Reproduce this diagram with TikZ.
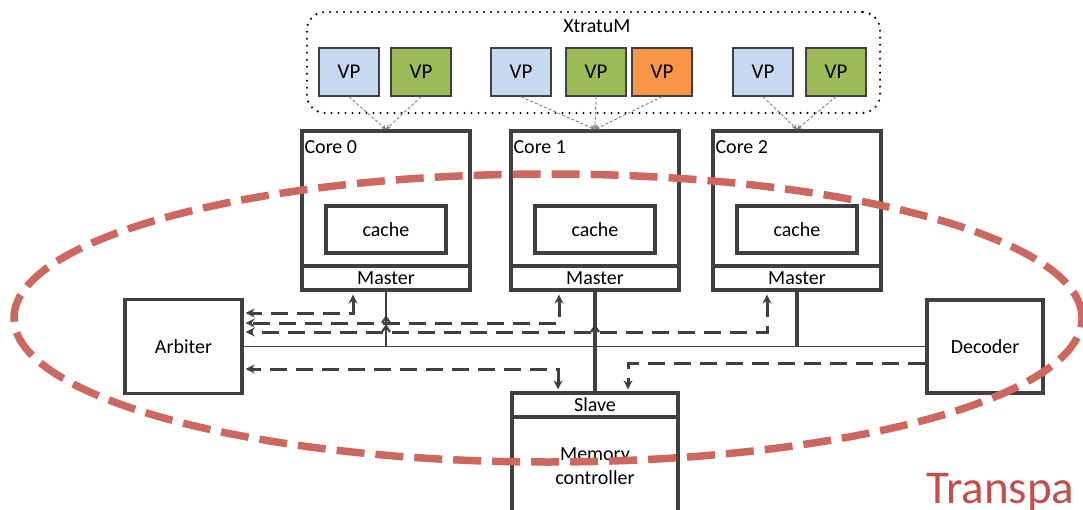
\documentclass[tikz,border=0pt]{standalone}
\usepackage{fontspec}
\setmainfont{Carlito}
\usetikzlibrary{arrows.meta}

\definecolor{linegray}{RGB}{64,64,64}
\definecolor{vpblue}{RGB}{198,217,241}
\definecolor{vpgreen}{RGB}{155,187,89}
\definecolor{vporange}{RGB}{247,150,70}
\definecolor{halored}{RGB}{205,104,96}
\definecolor{textred}{RGB}{192,80,77}

\begin{document}
\begin{tikzpicture}[x=1pt, y=-1pt,
    font=\fontsize{20}{24}\selectfont,
    >={Stealth[length=9pt,width=9pt]},
    box/.style={draw=linegray, line width=3.3pt, inner sep=0pt},
    vp/.style={draw=linegray, line width=1.4pt, minimum width=60pt, minimum height=48pt, inner sep=0pt, font=\fontsize{21}{24}\selectfont},
    vplink/.style={draw=gray, line width=0.9pt, dash pattern=on 3pt off 2pt, -{Stealth[length=5pt,width=5pt]}},
    req/.style={draw=linegray, line width=3pt, dash pattern=on 17pt off 9pt},
    tap/.style={draw=linegray, line width=3.3pt},
    halo/.style={draw=halored, line width=7.5pt, dash pattern=on 28pt off 11pt}]

    \useasboundingbox (0,0) rectangle (1083,510);
    \clip (0,0) rectangle (1083,510);

    % hypervisor with its virtual processors
    \node[draw=black, line width=2.4pt, line cap=round, dash pattern=on 0pt off 7pt, rounded corners=18pt, minimum width=573pt, minimum height=101pt] (xtm) at (593.5,62.5) {};
    \node (xlbl) at (597,26) {XtratuM};
    \foreach \n/\x/\c in {v0/349/vpblue, v1/421/vpgreen, v2/521/vpblue, v3/596/vpgreen, v4/662/vporange, v5/763/vpblue, v6/836/vpgreen} {
        \node[vp, fill=\c] (\n) at (\x,72) {VP};
    }

    % cores
    \foreach \i/\x in {0/386, 1/595, 2/797} {
        \node[box, minimum width=168pt, minimum height=135pt] (c\i) at (\x,198.5) {};
        \node[box, minimum width=168pt, minimum height=24pt] (m\i) at (\x,278) {Master};
        \node[box, minimum width=120pt, minimum height=47pt] (ca\i) at (\x,229.5) {cache};
        \node[anchor=north west, inner sep=0pt] (l\i) at ([shift={(4,11)}]c\i.north west) {Core \i};
    }
    \foreach \n/\c in {v0/c0, v1/c0, v2/c1, v3/c1, v4/c1, v5/c2, v6/c2} {
        \draw[vplink] (\n.south) -- (\c.north);
    }

    % arbiter, decoder, memory
    \node[box, minimum width=117pt, minimum height=94pt] (arb) at (183.5,346.5) {Arbiter};
    \node[box, minimum width=116pt, minimum height=93pt] (dec) at (985,346.5) {Decoder};
    \node[box, minimum width=166pt, minimum height=24pt] (slave) at (595,405) {Slave};
    \node[box, minimum width=166pt, minimum height=110pt] (mc) at (595,472) {};
    \node[align=center] (mctext) at (595,466) {Memory\\controller};

    % bus
    \draw[linegray, line width=1.8pt] (arb.east) -- (dec.west);
    \draw[tap, line width=2.4pt] (m0.south) -- (m0.south |- arb.east);
    \draw[tap] (m1.south) -- (slave.north);
    \draw[tap] (m2.south) -- (m2.south |- arb.east);

    % requests and grants
    \coordinate (k0) at (353,313);
    \coordinate (k1) at (559,323);
    \coordinate (k2) at (767,332);
    \coordinate (k3) at (558,369);
    \coordinate (k4) at (628,363);
    \draw[req, <->, shorten <=3pt, shorten >=2pt] (k0 |- m0.south) -- (k0) -- (arb.east |- k0);
    \draw[req, <->, shorten <=3pt, shorten >=2pt] (k1 |- m1.south) -- (k1) -- (arb.east |- k1);
    \draw[req, <->, shorten <=3pt, shorten >=2pt] (k2 |- m2.south) -- (k2) -- (arb.east |- k2);
    \draw[req, <->, shorten <=2pt, shorten >=2pt] (k3 |- slave.north) -- (k3) -- (arb.east |- k3);
    \draw[req, ->, shorten >=2pt] (dec.west |- k4) -- (k4) -- (k4 |- slave.north);
    \foreach \a/\b in {m0/k1, m0/k2, m1/k2} {
        \draw[linegray, line width=2.2pt] (\a.south |- \b) ++(-4,0) -- ++(4,-6) -- ++(4,6);
    }

    % highlighted region
    \draw[halo] (548,318) ellipse [x radius=534pt, y radius=144pt];
    \node[anchor=base west, inner sep=0pt, text=textred, font=\fontsize{47}{56}\selectfont] (title) at (926,503) {Transpa};
\end{tikzpicture}
\end{document}
